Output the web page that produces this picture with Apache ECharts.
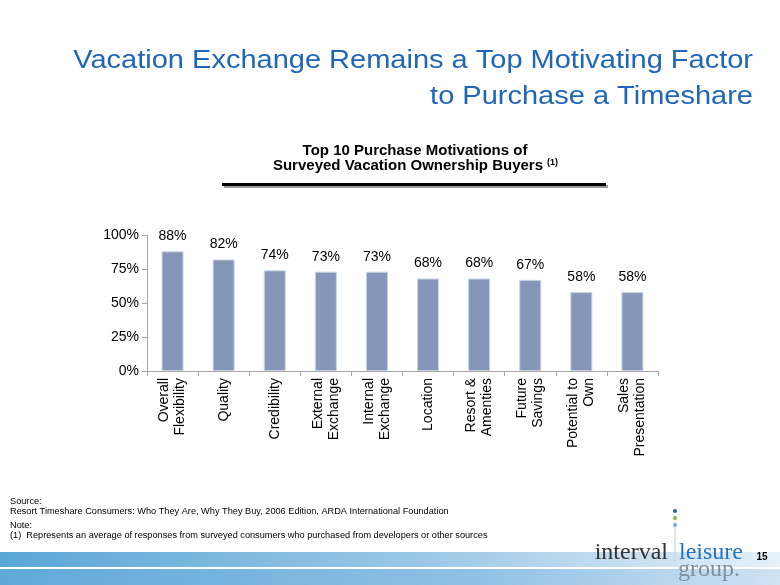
<!DOCTYPE html>
<html>
<head>
<meta charset="utf-8">
<script src="https://cdn.jsdelivr.net/npm/echarts@6/dist/echarts.min.js"></script>
<style>
html,body{margin:0;padding:0;background:#fff;}
#chart{width:780px;height:585px;}
</style>
</head>
<body>
<div id="chart"></div>
<script>
var categories = ['Overall\nFlexibility', 'Quality', 'Credibility', 'External\nExchange', 'Internal\nExchange', 'Location', 'Resort &\nAmenties', 'Future\nSavings', 'Potential to\nOwn', 'Sales\nPresentation'];
var values = [88, 82, 74, 73, 73, 68, 68, 67, 58, 58];
var yTicks = [0, 25, 50, 75, 100];

var titleLines = ['Vacation Exchange Remains a Top Motivating Factor', 'to Purchase a Timeshare'];
var subtitleLines = ['Top 10 Purchase Motivations of', 'Surveyed Vacation Ownership Buyers'];
var footLines = ['Source:', 'Resort Timeshare Consumers: Who They Are, Why They Buy, 2006 Edition, ARDA International Foundation', 'Note:', '(1)  Represents an average of responses from surveyed consumers who purchased from developers or other sources'];

var chart = echarts.init(document.getElementById('chart'));
var FONT = 'Liberation Sans, Arial, sans-serif';

var option = {
  backgroundColor: '#ffffff',
  animation: false,
  grid: { left: 147, right: 122, top: 235, bottom: 214, containLabel: false },
  xAxis: {
    type: 'category',
    data: categories,
    axisLine: { lineStyle: { color: '#A6A6A6', width: 1 } },
    axisTick: { show: true, interval: 0, length: 5, lineStyle: { color: '#A6A6A6' } },
    axisLabel: { interval: 0, rotate: 90, fontSize: 14, lineHeight: 16, color: '#000', fontFamily: FONT, margin: 7 }
  },
  yAxis: {
    type: 'value',
    min: yTicks[0],
    max: yTicks[yTicks.length - 1],
    interval: 25,
    axisLine: { show: true, lineStyle: { color: '#A6A6A6', width: 1 } },
    axisTick: { show: true, length: 5, lineStyle: { color: '#A6A6A6' } },
    splitLine: { show: false },
    axisLabel: { formatter: '{value}%', fontSize: 14, color: '#000', fontFamily: FONT, margin: 8 }
  },
  series: [{
    type: 'bar',
    data: values,
    barWidth: 22,
    itemStyle: { color: '#8497B8', borderColor: '#C9D2E3', borderWidth: 1 },
    label: { show: true, position: 'top', distance: 8, formatter: '{c}%', fontSize: 14, color: '#000', fontFamily: FONT }
  }],
  graphic: [
    // bottom band
    { type: 'rect', shape: { x: 0, y: 552, width: 780, height: 15 }, silent: true,
      style: { fill: new echarts.graphic.LinearGradient(0, 0, 1, 0, [{ offset: 0, color: '#5AA7D6' }, { offset: 0.55, color: '#9CC8E6' }, { offset: 1, color: '#E6F0F8' }]) } },
    { type: 'rect', shape: { x: 0, y: 569, width: 780, height: 16 }, silent: true,
      style: { fill: new echarts.graphic.LinearGradient(0, 0, 1, 0, [{ offset: 0, color: '#5FA9D8' }, { offset: 0.6, color: '#8EC0E4' }, { offset: 1, color: '#CFE2F2' }]) } },
    // title
    { type: 'text', x: 753, y: 61, scaleX: 1.16, silent: true,
      style: { text: titleLines[0], fill: '#1F66B8', font: '25px ' + FONT, textAlign: 'right', textVerticalAlign: 'middle' } },
    { type: 'text', x: 753, y: 97, scaleX: 1.16, silent: true,
      style: { text: titleLines[1], fill: '#1F66B8', font: '25px ' + FONT, textAlign: 'right', textVerticalAlign: 'middle' } },
    // subtitle
    { type: 'text', x: 415, y: 151, silent: true,
      style: { text: subtitleLines[0], fill: '#000', font: 'bold 15px ' + FONT, textAlign: 'center', textVerticalAlign: 'middle' } },
    { type: 'text', x: 408, y: 166, silent: true,
      style: { text: subtitleLines[1], fill: '#000', font: 'bold 15px ' + FONT, textAlign: 'center', textVerticalAlign: 'middle' } },
    { type: 'text', x: 547, y: 163, silent: true,
      style: { text: '(1)', fill: '#000', font: 'bold 9px ' + FONT, textAlign: 'left', textVerticalAlign: 'middle' } },
    // underline with shadow
    { type: 'rect', shape: { x: 224, y: 185, width: 384, height: 3 }, silent: true, style: { fill: '#9a9a9a' } },
    { type: 'rect', shape: { x: 222, y: 183, width: 384, height: 3 }, silent: true, style: { fill: '#000' } },
    // footnotes
    { type: 'text', x: 10, y: 501, silent: true, style: { text: footLines[0], fill: '#000', font: '9.2px ' + FONT, textVerticalAlign: 'middle' } },
    { type: 'text', x: 10, y: 511, silent: true, style: { text: footLines[1], fill: '#000', font: '9.2px ' + FONT, textVerticalAlign: 'middle' } },
    { type: 'text', x: 10, y: 525, silent: true, style: { text: footLines[2], fill: '#000', font: '9.2px ' + FONT, textVerticalAlign: 'middle' } },
    { type: 'text', x: 10, y: 535, silent: true, style: { text: footLines[3], fill: '#000', font: '9.2px ' + FONT, textVerticalAlign: 'middle' } },
    // logo
    { type: 'line', shape: { x1: 675, y1: 522, x2: 675, y2: 562 }, silent: true, style: { stroke: '#C8CDD2', lineWidth: 1 } },
    { type: 'circle', shape: { cx: 675, cy: 511, r: 2 }, silent: true, style: { fill: '#1F66B8' } },
    { type: 'circle', shape: { cx: 675, cy: 518, r: 2 }, silent: true, style: { fill: '#7DBB42' } },
    { type: 'circle', shape: { cx: 675, cy: 525, r: 2 }, silent: true, style: { fill: '#6FB1E0' } },
    { type: 'text', x: 668, y: 541, silent: true,
      style: { text: 'interval', fill: '#333333', font: '24px Liberation Serif, Times New Roman, serif', textAlign: 'right', textVerticalAlign: 'alphabetic' } },
    { type: 'text', x: 679, y: 541, silent: true,
      style: { text: 'leisure', fill: '#2373C2', font: '24px Liberation Serif, Times New Roman, serif', textAlign: 'left', textVerticalAlign: 'alphabetic' } },
    { type: 'text', x: 678, y: 558, silent: true,
      style: { text: 'group.', fill: '#7F8E9A', font: '24px Liberation Serif, Times New Roman, serif', textAlign: 'left', textVerticalAlign: 'alphabetic' } },
    { type: 'text', x: 762, y: 557, silent: true,
      style: { text: '15', fill: '#000', font: 'bold 10px ' + FONT, textAlign: 'center', textVerticalAlign: 'middle' } }
  ]
};
chart.setOption(option);
</script>
</body>
</html>
